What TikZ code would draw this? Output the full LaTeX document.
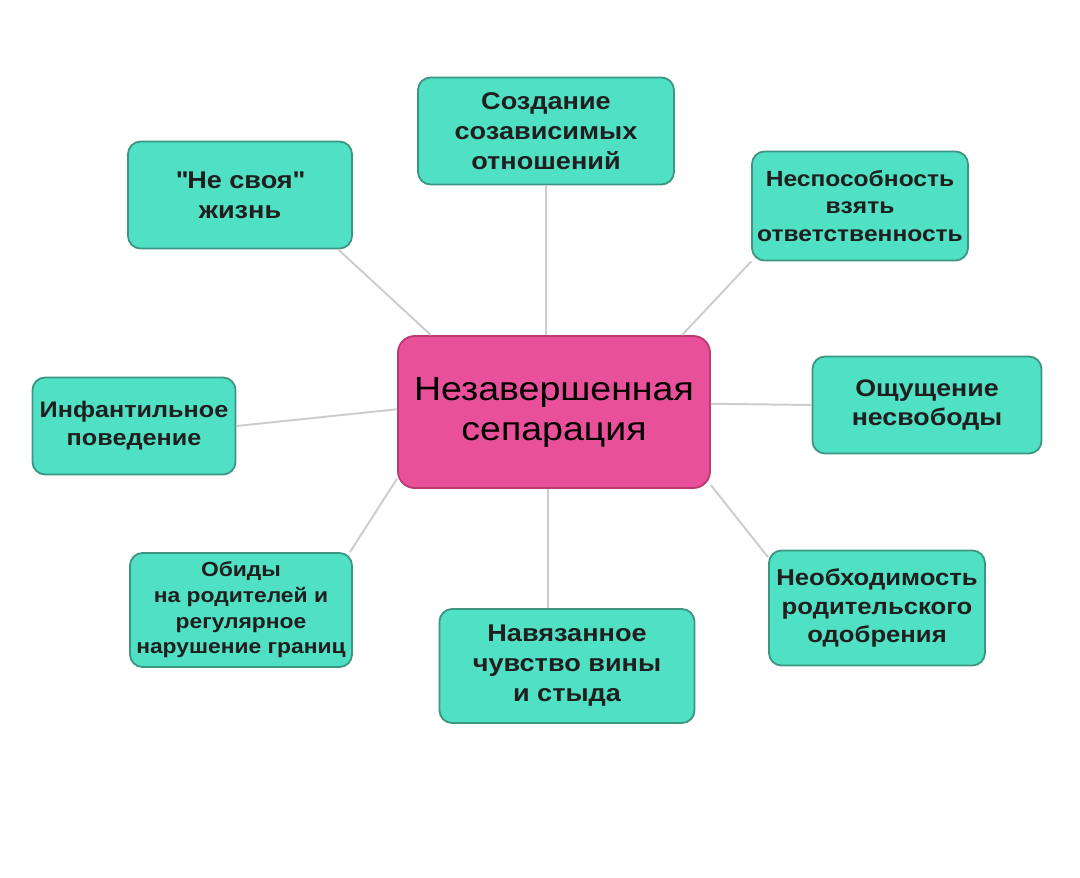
\documentclass[tikz,border=0pt]{standalone}
\usepackage{fontspec}
\setmainfont[FakeStretch=1.12]{Liberation Sans}
\usepackage{tikz}
\usetikzlibrary{shapes}

\definecolor{turq}{HTML}{50E0C4}
\definecolor{turqbord}{HTML}{3C9682}
\definecolor{rose}{HTML}{E8509A}
\definecolor{rosebord}{HTML}{B83A70}
\definecolor{lien}{HTML}{CDCDCD}

\begin{document}
\begin{tikzpicture}[x=0.025cm,y=-0.025cm]
    \tikzset{idee/.style={draw=turqbord,fill=turq,rectangle,rounded corners=9pt,line width=1.3pt,align=center,text=black!88,font=\bfseries\fontsize{16}{20}\selectfont}}
    \tikzset{coeur/.style={draw=rosebord,fill=rose,rectangle,rounded corners=12pt,line width=1.3pt,align=center,text=black,font=\fontsize{23.8}{28.5}\selectfont}}
    \tikzstyle{trait}=[draw=lien,line width=1.4pt]
    \useasboundingbox (0,0) rectangle (1080,877);

    \node[coeur,minimum width=7.8cm,minimum height=3.8cm] (SEP) at (554,412) {Незавершенная\\сепарация};

    \node[idee,minimum width=6.4cm,minimum height=2.675cm,font=\bfseries\fontsize{17.2}{21.3}\selectfont] (SOZ) at (546,131) {Создание\\созависимых\\отношений};
    \node[idee,minimum width=5.6cm,minimum height=2.675cm,font=\bfseries\fontsize{17.2}{21.3}\selectfont] (NESV) at (240,195) {\textquotedbl Не своя\textquotedbl\\жизнь};
    \node[idee,minimum width=5.4cm,minimum height=2.725cm,font=\bfseries\fontsize{15.6}{19.5}\selectfont] (NESP) at (860,206) {Неспособность\\взять\\ответственность};
    \node[idee,minimum width=5.075cm,minimum height=2.425cm] (INF) at (134,426) {Инфантильное\\поведение};
    \node[idee,minimum width=5.725cm,minimum height=2.425cm,font=\bfseries\fontsize{17}{21}\selectfont] (OSH) at (927,405) {Ощущение\\несвободы};
    \node[idee,minimum width=5.55cm,minimum height=2.85cm,font=\bfseries\fontsize{14.5}{18.2}\selectfont] (OBI) at (241,610) {Обиды\\на родителей и\\регулярное\\нарушение границ};
    \node[idee,minimum width=6.375cm,minimum height=2.85cm,font=\bfseries\fontsize{17.2}{21.3}\selectfont] (NAV) at (567,666) {Навязанное\\чувство вины\\и стыда};
    \node[idee,minimum width=5.4cm,minimum height=2.875cm,font=\bfseries\fontsize{16.3}{20}\selectfont] (NEOB) at (877,608) {Необходимость\\родительского\\одобрения};

    % liens vers le centre
    \draw[trait] (SOZ.south) -- (SOZ.south |- SEP.north);
    \draw[trait] (NESV.-29.5) -- (SEP.148);
    \draw[trait] (NESP.207.6) -- (SEP.31.5);
    \draw[trait] (INF.east) -- (SEP.179);
    \draw[trait] (OSH.west) -- (SEP.3.7);
    \draw[trait] (OBI.28) -- (SEP.203.4);
    \draw[trait] (NAV.108.4) -- (NAV.108.4 |- SEP.south);
    \draw[trait] (NEOB.155.8) -- (SEP.-25.5);
  \end{tikzpicture}
\end{document}
